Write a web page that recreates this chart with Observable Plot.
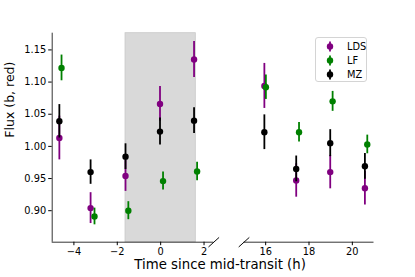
<!DOCTYPE html>
<html>
<head>
<meta charset="utf-8">
<script src="https://cdn.jsdelivr.net/npm/d3@7"></script>
<script src="https://cdn.jsdelivr.net/npm/@observablehq/plot@0.6"></script>
<style>
  body { margin: 0; background: #fff; font-family: "DejaVu Sans", sans-serif; }
  #wrap { position: relative; width: 415px; height: 277px; }
  .legend { position: absolute; left: 315px; top: 37px; width: 52px; height: 45px;
            border: 1px solid #d4d4d4; border-radius: 3px; background: rgba(255,255,255,0.85);
            box-sizing: border-box; font-size: 9.8px; color: #000; }
  .legend .row { position: absolute; left: 0; height: 14px; width: 52px; }
  .legend svg { position: absolute; left: 8px; top: 0; }
  .legend span { position: absolute; left: 31px; top: 1px; line-height: 12px; }
</style>
</head>
<body>
<div id="wrap"></div>
<script>
// ---- data ----
const seriesNames = ["LDS", "LF", "MZ"];
const seriesColors = ["#800080", "#008000", "#000000"];

const ldsTime = [-4.67, -3.23, -1.62, -0.03, 1.54, 15.94, 17.41, 18.98, 20.58];
const ldsFlux = [1.013, 0.904, 0.954, 1.066, 1.135, 1.094, 0.947, 0.960, 0.935];
const ldsErr  = [0.034, 0.024, 0.024, 0.027, 0.028, 0.035, 0.026, 0.026, 0.026];

const lfTime = [-4.57, -3.05, -1.49, 0.11, 1.68, 16.01, 17.54, 19.09, 20.69];
const lfFlux = [1.122, 0.891, 0.900, 0.946, 0.961, 1.092, 1.022, 1.070, 1.003];
const lfErr  = [0.020, 0.013, 0.014, 0.014, 0.0145, 0.019, 0.015, 0.0155, 0.0145];

const mzTime = [-4.67, -3.23, -1.62, -0.03, 1.54, 15.94, 17.41, 18.98, 20.58];
const mzFlux = [1.039, 0.960, 0.984, 1.023, 1.040, 1.022, 0.965, 1.005, 0.969];
const mzErr  = [0.026, 0.019, 0.020, 0.021, 0.020, 0.027, 0.020, 0.021, 0.020];

const transitWindow = [-1.62, 1.62];
const leftDomain = [-5, 2.45];
const rightDomain = [15, 21];
const yDomain = [0.851, 1.176];
const xTicks = [-4, -2, 0, 2, 16, 18, 20];
const yTicks = [0.90, 0.95, 1.00, 1.05, 1.10, 1.15];
const xLabel = "Time since mid-transit (h)";
const yLabel = "Flux (b, red)";

// ---- build ----
const times = [ldsTime, lfTime, mzTime];
const fluxes = [ldsFlux, lfFlux, mzFlux];
const errs = [ldsErr, lfErr, mzErr];

const seriesData = seriesNames.map((name, k) =>
  times[k].map((t, i) => ({series: name, t, f: fluxes[k][i], e: errs[k][i]})));

const fmtX = d => d < 0 ? "\u2212" + Math.abs(d) : String(d);

const breakShape = {
  draw(context, l) { context.moveTo(0, 0); context.lineTo(0, -l); }
};

const marks = [
  Plot.rect([transitWindow], {x1: d => d[0], x2: d => d[1], fill: "#d9d9d9", stroke: "#c8c8c8", strokeWidth: 0.8}),
  // spines
  Plot.ruleX([leftDomain[0]], {stroke: "#000", strokeWidth: 0.8}),
  Plot.ruleY([leftDomain, rightDomain], {y: () => yDomain[0], x1: d => d[0], x2: d => d[1], stroke: "#000", strokeWidth: 0.8}),
  Plot.vector([leftDomain[1], rightDomain[0]], {
    x: d => d, y: () => yDomain[0], length: 13.5, rotate: 48, anchor: "middle",
    shape: breakShape, stroke: "#000", strokeWidth: 0.9
  }),
  Plot.axisY({ticks: yTicks, tickFormat: d => d.toFixed(2), tickSize: 3.5, tickPadding: 2.5, label: null, fontSize: 9.8}),
  Plot.axisX({ticks: xTicks, tickFormat: fmtX, tickSize: 3.5, tickPadding: 2.5, label: null, fontSize: 9.8}),
  Plot.text([xLabel], {text: d => d, frameAnchor: "bottom", dx: 7, dy: 26.3, fontSize: 13.3}),
  Plot.text([yLabel], {text: d => d, frameAnchor: "left", rotate: -90, dx: -42, fontSize: 12.5})
];

seriesData.forEach((rows, k) => {
  marks.push(Plot.ruleX(rows, {x: "t", y1: d => d.f - d.e, y2: d => d.f + d.e, stroke: seriesColors[k], strokeWidth: 1.8}));
  marks.push(Plot.dot(rows, {x: "t", y: "f", r: 3.2, fill: seriesColors[k], stroke: "none"}));
});

const chart = Plot.plot({
  width: 415,
  height: 277,
  marginLeft: 51.7,
  marginRight: 41.5,
  marginTop: 32.7,
  marginBottom: 35.3,
  style: {fontFamily: "DejaVu Sans", fontSize: "9.8px", color: "#000", background: "#fff"},
  x: {type: "linear", domain: [leftDomain[0], leftDomain[1], rightDomain[0], rightDomain[1]],
      range: [51.7, 213.3, 243.5, 373.5]},
  y: {domain: yDomain},
  marks
});

const wrap = document.getElementById("wrap");
wrap.appendChild(chart);

// legend
const legend = document.createElement("div");
legend.className = "legend";
seriesNames.forEach((name, k) => {
  const row = document.createElement("div");
  row.className = "row";
  row.style.top = (2 + k * 14) + "px";
  const c = seriesColors[k];
  row.innerHTML = `<svg width="12" height="14"><line x1="6" x2="6" y1="1.5" y2="11.5" stroke="${c}" stroke-width="1.8"/><circle cx="6" cy="6.5" r="3.2" fill="${c}"/></svg><span>${name}</span>`;
  legend.appendChild(row);
});
wrap.appendChild(legend);
</script>
</body>
</html>
